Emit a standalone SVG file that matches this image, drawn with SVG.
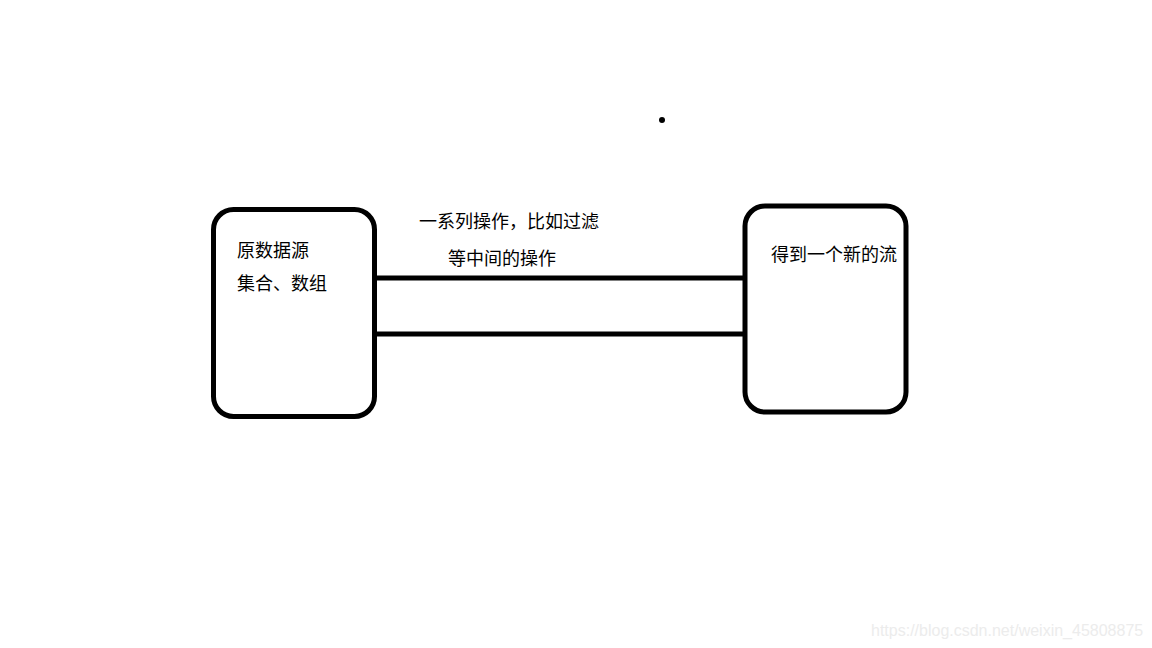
<svg xmlns="http://www.w3.org/2000/svg" width="1152" height="648" viewBox="0 0 1152 648">
<style>
.box{fill:#fff;stroke:#000;stroke-width:5}
.conn{stroke:#000;stroke-width:5;fill:none}
.t{font-family:"Microsoft YaHei","Noto Sans CJK SC",sans-serif;font-size:18px;fill:#000}
.wm{font-family:"Liberation Sans",Arial,sans-serif;font-size:16px;fill:#ececec}
</style>
<rect width="1152" height="648" fill="#fff"/>
<g id="connectors">
<line class="conn" x1="375" y1="278" x2="746" y2="278"/>
<line class="conn" x1="375" y1="334" x2="746" y2="334"/>
</g>
<g id="source">
<rect class="box" x="213.5" y="209.5" width="161" height="207" rx="20"/>
<text class="t" x="237" y="257">原数据源</text>
<text class="t" x="237" y="290">集合、数组</text>
</g>
<g id="ops">
<text class="t" x="419" y="228">一系列操作，比如过滤</text>
<text class="t" x="448" y="265">等中间的操作</text>
</g>
<g id="result">
<rect class="box" x="745" y="206" width="161" height="206" rx="20"/>
<text class="t" x="771" y="261">得到一个新的流</text>
</g>
<circle cx="662" cy="120" r="3" fill="#000"/>
<text class="wm" x="871" y="636">https://blog.csdn.net/weixin_45808875</text>
</svg>
